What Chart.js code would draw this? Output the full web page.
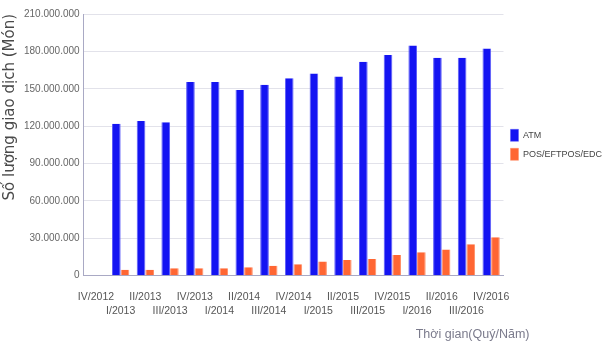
<!DOCTYPE html>
<html>
<head>
<meta charset="utf-8">
<script src="https://cdn.jsdelivr.net/npm/chart.js@4"></script>
<style>
  body { margin: 0; background: #ffffff; }
  #wrap { width: 604px; height: 351px; }
</style>
</head>
<body>
<div id="wrap"><canvas id="chartTx" width="604" height="351"></canvas></div>
<script>
const quarters = ["IV/2012", "I/2013", "II/2013", "III/2013", "IV/2013", "I/2014", "II/2014", "III/2014",
  "IV/2014", "I/2015", "II/2015", "III/2015", "IV/2015", "I/2016", "II/2016", "III/2016", "IV/2016"];
const atmValues = [null, 122000000, 124100000, 123100000, 155500000, 155400000, 149000000, 153200000,
  158500000, 162300000, 159900000, 171600000, 177000000, 184800000, 174800000, 174800000, 182400000];
const posValues = [null, 4800000, 4800000, 5900000, 5900000, 5900000, 6700000, 8000000,
  9100000, 11300000, 12600000, 13400000, 16600000, 18800000, 20900000, 25200000, 30800000];
const yTicks = [0, 30000000, 60000000, 90000000, 120000000, 150000000, 180000000, 210000000];

const sans = "'Liberation Sans', Arial, sans-serif";

function dotted(v) {
    return String(v).replace(/\B(?=(\d{3})+(?!\d))/g, '.');
}

// x axis title sits right of the plot, drawn by hand
const xTitle = {
    id: 'xTitle',
    afterDraw(chart) {
        const c = chart.ctx;
        c.save();
        c.font = "12.5px " + sans;
        c.fillStyle = '#7b7b8c';
        c.textAlign = 'right';
        c.textBaseline = 'middle';
        c.fillText('Thời gian(Quý/Năm)', chart.chartArea.right + 26, 335);
        c.restore();
    }
};

const ctx = document.getElementById("chartTx").getContext('2d');
new Chart(ctx, {
    type: "bar",
    data: {
        labels: quarters,
        datasets: [{
            label: 'ATM',
            data: atmValues,
            backgroundColor: '#1414f2',
            borderColor: '#5c5cf8',
            borderWidth: { left: 1, right: 1, top: 0, bottom: 0 },
            categoryPercentage: 0.7,
            barPercentage: 1.0
        }, {
            label: 'POS/EFTPOS/EDC',
            data: posValues,
            backgroundColor: '#ff6633',
            borderColor: '#ff8f66',
            borderWidth: { left: 1, right: 1, top: 0, bottom: 0 },
            categoryPercentage: 0.7,
            barPercentage: 1.0
        }]
    },
    options: {
        responsive: false,
        animation: false,
        layout: {
            padding: { top: 14, left: 3, right: -8, bottom: 19 }
        },
        scales: {
            x: {
                grid: { display: false, drawTicks: false },
                border: { color: '#a9a9c4', width: 1 },
                ticks: {
                    autoSkip: false,
                    maxRotation: 0,
                    padding: 14,
                    color: '#555555',
                    font: { family: sans, size: 10.5, lineHeight: 1.35 },
                    callback: function (value, index) {
                        const t = quarters[index];
                        return index % 2 === 0 ? [t, ''] : ['', t];
                    }
                }
            },
            y: {
                min: 0,
                max: 210000000,
                afterBuildTicks: function (axis) {
                    axis.ticks = yTicks.map(v => ({ value: v }));
                },
                grid: { color: '#e2e2ea', drawTicks: false },
                border: { color: '#a9a9c4', width: 1 },
                ticks: {
                    padding: 4,
                    color: '#666666',
                    font: { family: sans, size: 10 },
                    callback: v => dotted(v)
                },
                title: {
                    display: true,
                    text: 'Số lượng giao dịch (Món)',
                    align: 'end',
                    color: '#4a4a4a',
                    font: { family: 'DejaVu Sans', size: 15, lineHeight: 1.0 },
                    padding: { top: 0, bottom: 2 }
                }
            }
        },
        plugins: {
            legend: {
                display: true,
                position: 'right',
                fullSize: false,
                labels: {
                    boxWidth: 8,
                    boxHeight: 12,
                    padding: 7,
                    color: '#444444',
                    font: { family: sans, size: 9 }
                }
            },
            tooltip: { enabled: false }
        }
    },
    plugins: [xTitle]
});
</script>
</body>
</html>
